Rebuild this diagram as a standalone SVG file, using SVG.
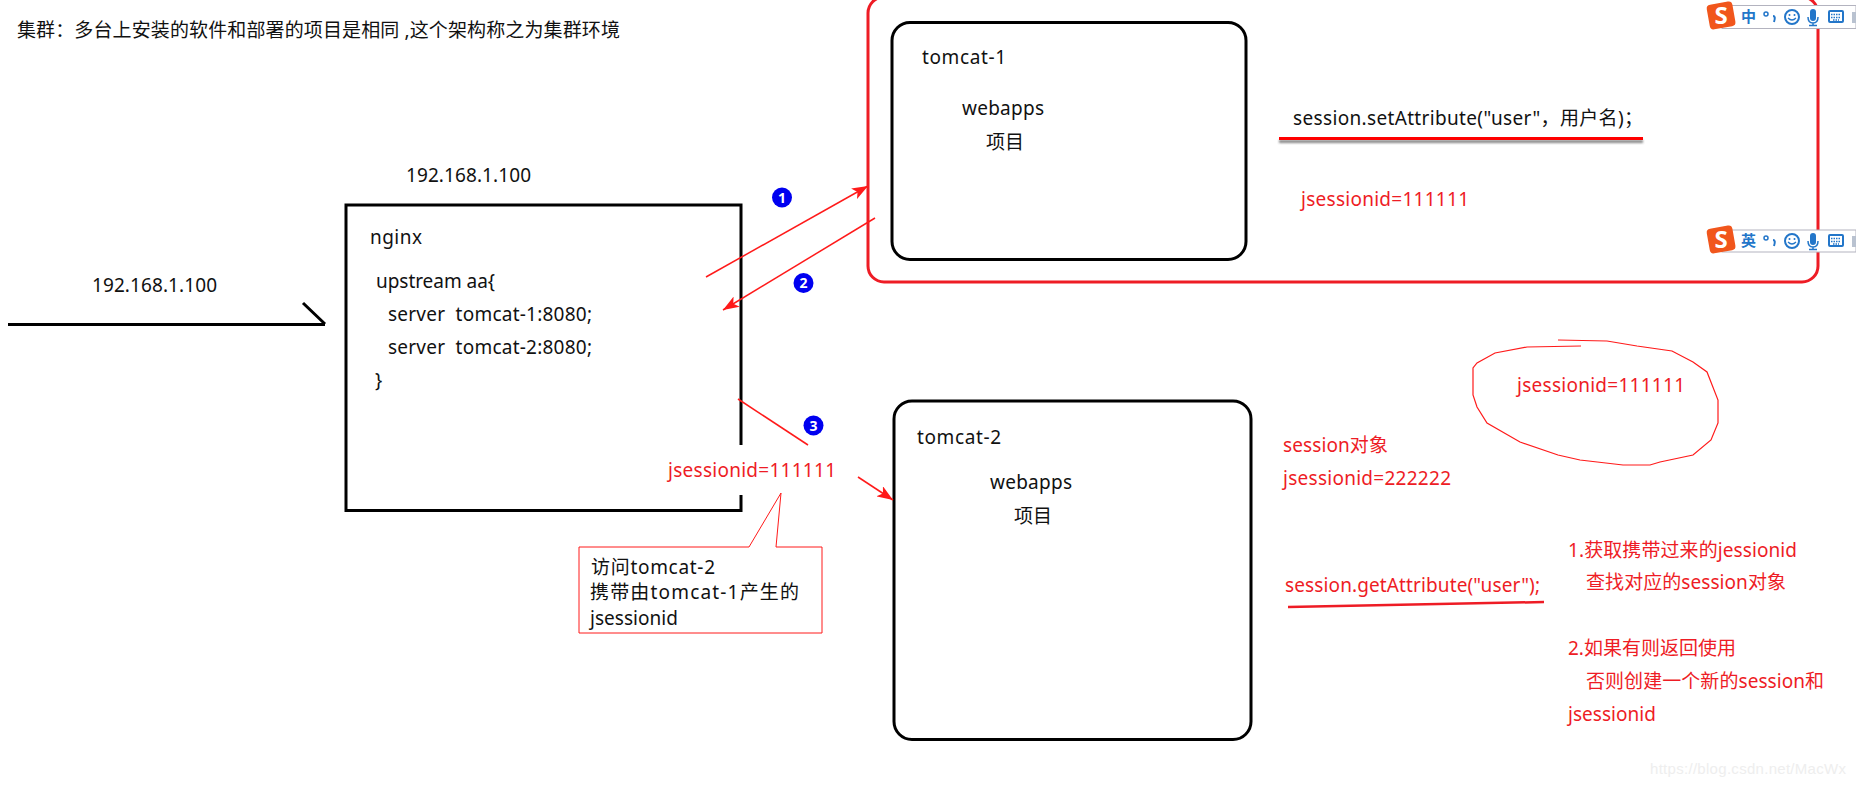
<svg xmlns="http://www.w3.org/2000/svg" width="1856" height="787" viewBox="0 0 1856 787">
<style>
text{font-family:"Noto Sans","Noto Sans CJK SC",sans-serif;font-size:19px;fill:#111;white-space:pre}
.r{fill:#ee1c25}
.box{fill:none;stroke:#000;stroke-width:3}
.red{fill:none;stroke:#ff1a1a;stroke-width:1.5}
.ul{fill:none;stroke:#ee1c25;stroke-width:2.5}
.n{fill:#fff;font-size:14px;font-weight:700;text-anchor:middle}
.ic{fill:none;stroke:#2376c9;stroke-width:2}
.bl{font-size:15px;font-weight:700;fill:#2376c9}
</style>
<defs>
<marker id="ah" markerUnits="userSpaceOnUse" markerWidth="18" markerHeight="12" refX="16" refY="6" orient="auto"><path d="M0 0L16 6L0 12L4 6Z" fill="#ff1a1a"/></marker>
<filter id="sh" filterUnits="userSpaceOnUse" x="1270" y="128" width="385" height="24"><feDropShadow dx="0" dy="3" stdDeviation="1.2" flood-color="#555" flood-opacity=".7"/></filter>
<g id="tools">
<circle cx="1766" cy="14" r="2" fill="none" stroke="#2376c9" stroke-width="1.500"/>
<path d="M1773 16q3 0 1 6" fill="none" stroke="#2376c9" stroke-width="2"/>
<circle class="ic" cx="1792" cy="17" r="7"/>
<path d="M1788 18q4 4 8 0" fill="none" stroke="#2376c9" stroke-width="1.200"/>
<circle cx="1789.500" cy="15" r="1" fill="#2376c9"/><circle cx="1794.500" cy="15" r="1" fill="#2376c9"/>
<rect x="1810" y="9" width="6" height="12" rx="3" fill="#2376c9"/>
<path d="M1808 17q0 6 5 6q5 0 5-6M1813 23v2M1809 25.500h8" fill="none" stroke="#2376c9" stroke-width="1.500"/>
<rect x="1829" y="11" width="14" height="11" rx="1" class="ic"/>
<path d="M1831 14.500h10M1831 17.500h10M1833 20h6" stroke="#2376c9" stroke-width="1.500" stroke-dasharray="1.500 1"/>
<rect x="1852" y="12" width="4" height="11" fill="#b9c2d0"/>
</g>
</defs>
<rect width="1856" height="787" fill="#fff"/>
<text x="17" y="37" textLength="603">集群：多台上安装的软件和部署的项目是相同 ,这个架构称之为集群环境</text>
<g id="nginx">
<path class="box" d="M741 445V205H346V510.500H741V495"/>
<text x="370" y="244" textLength="52">nginx</text>
<text x="376" y="288" textLength="119">upstream aa{</text>
<text x="388" y="321" textLength="204">server  tomcat-1:8080;</text>
<text x="388" y="354" textLength="204">server  tomcat-2:8080;</text>
<text x="375" y="387">}</text>
<text x="406" y="182" textLength="125">192.168.1.100</text>
</g>
<g id="cluster"><rect x="868" y="-3" width="950" height="285" rx="16" fill="none" stroke="#ee1c25" stroke-width="3"/></g>
<g id="tomcat-1">
<rect class="box" x="892" y="22.500" width="354" height="237" rx="18"/>
<text x="922" y="64" textLength="84">tomcat-1</text>
<text x="962" y="115" textLength="82">webapps</text>
<text x="986" y="149">项目</text>
</g>
<g id="tomcat-2">
<rect class="box" x="894" y="401" width="357" height="338.500" rx="18"/>
<text x="917" y="444" textLength="84">tomcat-2</text>
<text x="990" y="489" textLength="82">webapps</text>
<text x="1014" y="523">项目</text>
</g>
<g id="connectors">
<path d="M8 324.500H325M303 303L325 324" fill="none" stroke="#000" stroke-width="3"/>
<path class="red" d="M706 277L868 186" marker-end="url(#ah)"/>
<path class="red" d="M875 218L723 310" marker-end="url(#ah)"/>
<path class="red" d="M738 399L808 445"/>
<path class="red" d="M858 477L893 500" marker-end="url(#ah)"/>
</g>
<g id="badges">
<circle cx="782" cy="197.500" r="10" fill="#0000f0"/><text class="n" x="782" y="202.500">1</text>
<circle cx="803.500" cy="283" r="10" fill="#0000f0"/><text class="n" x="803.500" y="288">2</text>
<circle cx="813.500" cy="425.500" r="10" fill="#0000f0"/><text class="n" x="813.500" y="430.500">3</text>
</g>
<g id="labels">
<text x="92" y="292" textLength="125">192.168.1.100</text>
<text class="r" x="668" y="477" textLength="168">jsessionid=111111</text>
<text x="1293" y="125" textLength="350">session.setAttribute("user"，用户名)；</text>
<rect x="1279" y="137" width="364" height="3" fill="#f00" filter="url(#sh)"/>
<text class="r" x="1301" y="206" textLength="168">jsessionid=111111</text>
<text class="r" x="1517" y="392" textLength="168">jsessionid=111111</text>
<path d="M1558 340L1607 341L1637 346L1672 351L1693 362L1707 372L1718 400V423L1711 440L1693 455L1660 462L1650 465H1623L1580 460L1558 455L1520 442L1487 423L1477 407L1473 395V368L1477 363L1495 353L1527 347L1581 346" fill="none" stroke="#ff1a1a" stroke-width="1.200"/>
<text class="r" x="1283" y="452" textLength="105">session对象</text>
<text class="r" x="1283" y="485" textLength="168">jsessionid=222222</text>
<text class="r" x="1285" y="592" textLength="255">session.getAttribute("user");</text>
<path class="ul" d="M1288 607L1544 602"/>
<text class="r" x="1568" y="557" textLength="229">1.获取携带过来的jessionid</text>
<text class="r" x="1586" y="589" textLength="200">查找对应的session对象</text>
<text class="r" x="1568" y="655" textLength="168">2.如果有则返回使用</text>
<text class="r" x="1586" y="688" textLength="238">否则创建一个新的session和</text>
<text class="r" x="1568" y="721" textLength="88">jsessionid</text>
</g>
<g id="callout">
<path d="M579 547H749L781 493L776 547H822V633H579Z" fill="#fff" stroke="#ff1a1a" stroke-width="1"/>
<text x="591" y="574" textLength="124">访问tomcat-2</text>
<text x="590" y="599" textLength="209">携带由tomcat-1产生的</text>
<text x="590" y="625" textLength="88">jsessionid</text>
</g>
<g id="ime-1">
<rect x="1722" y="5.500" width="134" height="23" fill="#fff" stroke="#b3b3bf"/>
<rect x="1708" y="3" width="26" height="25" rx="4" fill="#f1561c" transform="rotate(-10 1721 15)"/>
<text x="1721" y="24" text-anchor="middle" style="font-size:24px;font-weight:700;fill:#fff">S</text>
<text class="bl" x="1741" y="22">中</text>
<use href="#tools"/>
</g>
<g id="ime-2">
<rect x="1722" y="230" width="134" height="22" fill="#fff" stroke="#b3b3bf"/>
<rect x="1708" y="227" width="26" height="25" rx="4" fill="#f1561c" transform="rotate(-10 1721 239)"/>
<text x="1721" y="248" text-anchor="middle" style="font-size:24px;font-weight:700;fill:#fff">S</text>
<text class="bl" x="1741" y="246">英</text>
<use href="#tools" y="224"/>
</g>
<text x="1650" y="774" textLength="196" style="font-family:'Liberation Sans',sans-serif;font-size:15px;fill:#eee">https://blog.csdn.net/MacWx</text>
</svg>
